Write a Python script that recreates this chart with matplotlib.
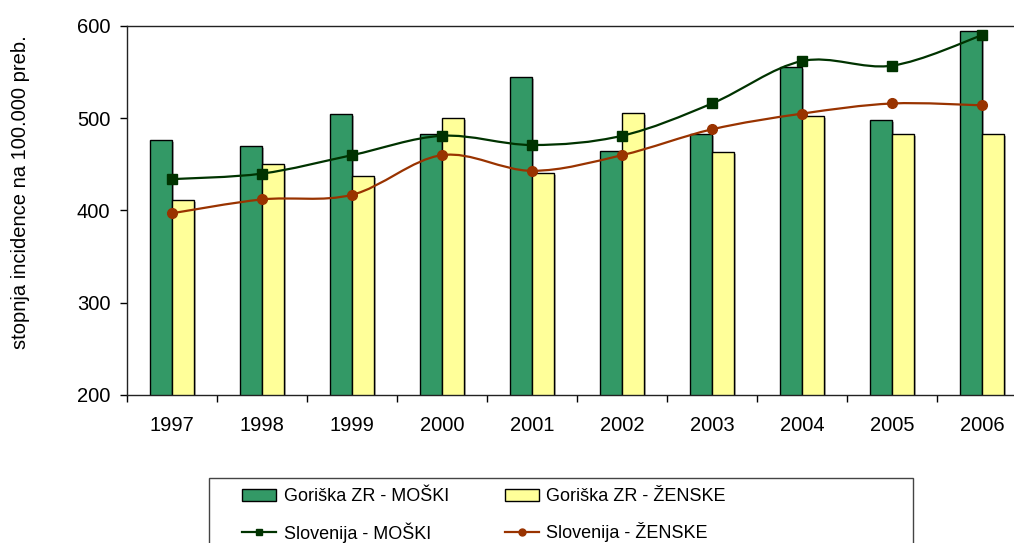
import matplotlib.pyplot as plt
import matplotlib.patheffects as pe
import numpy as np
from matplotlib.lines import Line2D
from matplotlib.patches import PathPatch, Patch, Rectangle
from matplotlib.path import Path

plt.rcParams["font.family"] = ["Liberation Sans", "DejaVu Sans"]

years = ["1997", "1998", "1999", "2000", "2001", "2002", "2003", "2004", "2005", "2006"]
goriska_moski = [476, 470, 505, 483, 545, 465, 483, 556, 498, 595]
goriska_zenske = [411, 450, 437, 500, 441, 506, 463, 502, 483, 483]
slovenija_moski = [434, 440, 460, 481, 471, 481, 516, 562, 557, 590]
slovenija_zenske = [397, 412, 417, 460, 443, 460, 488, 505, 516, 514]

GREEN = "#339966"
YELLOW = "#FFFF99"
DARK_GREEN = "#003300"
BROWN = "#993300"
FS = 14.5
LEG_FS = 13


def smooth_path(x, y):
    # Excel-like smoothed line: cubic bezier through every data point
    pts = np.column_stack([x, y]).astype(float)
    n = len(pts)
    verts = [pts[0]]
    codes = [Path.MOVETO]
    for i in range(n - 1):
        p0 = pts[i - 1] if i > 0 else pts[i]
        p3 = pts[i + 2] if i + 2 < n else pts[i + 1]
        c1 = pts[i] + (pts[i + 1] - p0) / 6
        c2 = pts[i + 1] - (p3 - pts[i]) / 6
        verts += [c1, c2, pts[i + 1]]
        codes += [Path.CURVE4] * 3
    return Path(verts, codes)


W, H = 1014, 543
fig = plt.figure(figsize=(W / 100, H / 100), dpi=100)
ax = fig.add_axes([127 / W, 148 / H, 900 / W, 369 / H])

x = np.arange(len(years))
bw = 0.244
shadow = [pe.SimplePatchShadow(offset=(1.5, -1.5), shadow_rgbFace="0.5", alpha=0.6), pe.Normal()]
ax.bar(x - bw / 2, goriska_moski, bw, color=GREEN, edgecolor="black", linewidth=1,
       zorder=2, path_effects=shadow)
ax.bar(x + bw / 2, goriska_zenske, bw, color=YELLOW, edgecolor="black", linewidth=1,
       zorder=2, path_effects=shadow)

for vals, col, mk, ms in [(slovenija_moski, DARK_GREEN, "s", 6.5),
                          (slovenija_zenske, BROWN, "o", 7)]:
    ax.add_patch(PathPatch(smooth_path(x, vals), fill=False, edgecolor=col,
                           linewidth=1.6, zorder=3))
    ax.plot(x, vals, linestyle="none", marker=mk, markersize=ms, color=col, zorder=4)

ax.set_xlim(-0.5, 9.5)
ax.set_ylim(200, 600)
ax.set_yticks([200, 300, 400, 500, 600])
ax.set_xticks(x)
ax.set_xticklabels(years)
ax.set_xticks(np.arange(-0.5, 10, 1), minor=True)
ax.tick_params(axis="x", which="major", length=0, pad=15, labelsize=FS)
ax.tick_params(axis="x", which="minor", length=5, width=1, direction="out")
ax.tick_params(axis="y", length=5, width=1, direction="out", pad=7, labelsize=FS)
for s in ["top", "left", "bottom"]:
    ax.spines[s].set_linewidth(1)
    ax.spines[s].set_color("#222222")
ax.spines["right"].set_visible(False)

fig.text(21 / W, 1 - 192 / H, "stopnja incidence na 100.000 preb.", rotation=90,
         ha="center", va="center", fontsize=FS)

# legend frame
fig.add_artist(Rectangle((209 / W, -0.2), (913 - 209) / W, 0.2 + (543 - 478) / H,
                         transform=fig.transFigure, fill=False, edgecolor="#444444",
                         linewidth=1))
handles = [
    Patch(facecolor=GREEN, edgecolor="black", linewidth=1),
    Line2D([], [], color=DARK_GREEN, marker="s", markersize=5, linewidth=1.6),
    Patch(facecolor=YELLOW, edgecolor="black", linewidth=1),
    Line2D([], [], color=BROWN, marker="o", markersize=5, linewidth=1.6),
]
labels = ["Goriška ZR - MOŠKI", "Slovenija - MOŠKI", "Goriška ZR - ŽENSKE", "Slovenija - ŽENSKE"]
fig.legend(handles, labels, loc="upper left", bbox_to_anchor=(233 / W, 1 - 479 / H),
           ncol=2, frameon=False, borderpad=0, fontsize=LEG_FS, handlelength=1.9,
           handleheight=0.65, handletextpad=0.4, columnspacing=3.1, labelspacing=0.95)

fig.savefig("out.png", dpi=100)
